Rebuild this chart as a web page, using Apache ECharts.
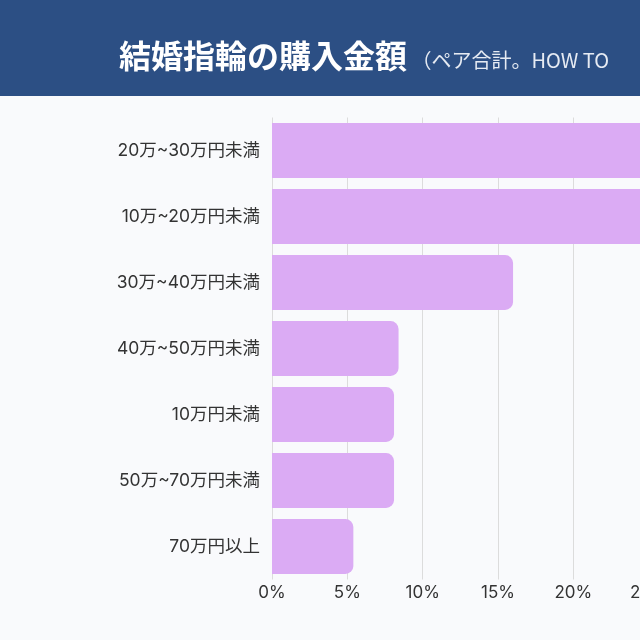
<!DOCTYPE html>
<html>
<head>
<meta charset="utf-8">
<script src="https://cdn.jsdelivr.net/npm/echarts@6/dist/echarts.min.js"></script>
<style>
html,body{margin:0;padding:0;background:#f9fafc;overflow:hidden;width:640px;height:640px;}
#chart{width:760px;height:640px;}
</style>
</head>
<body>
<div id="chart"></div>
<script>
// Data (top two bars are cut off at the right edge, estimated)
const categories = ['20万~30万円未満','10万~20万円未満','30万~40万円未満','40万~50万円未満','10万円未満','50万~70万円未満','70万円以上'];
const values = [28.4, 26.9, 16.0, 8.4, 8.1, 8.1, 5.4];
const titleMain = '結婚指輪の購入金額';
const titleSub = '（ペア合計。HOW TO';

const chart = echarts.init(document.getElementById('chart'), null, {renderer:'canvas'});
const font = "Inter, 'Noto Sans CJK JP', sans-serif";
chart.setOption({
  backgroundColor: '#f9fafc',
  animation: false,
  graphic: [
    {type:'rect', left:0, top:0, shape:{x:0,y:0,width:760,height:96}, style:{fill:'#2c4f84'}, z:-1}
  ],
  title: {
    text: '{a|' + titleMain + '}{b| ' + titleSub + '}',
    left: 114, top: 31,
    textStyle: {
      rich: {
        a: {fontSize: 32, fontWeight: 'bold', color: '#ffffff', fontFamily: "'Noto Sans CJK JP', sans-serif", verticalAlign:'bottom', lineHeight: 36},
        b: {fontSize: 20, fontWeight: 'normal', color: '#e6ebf3', fontFamily: "'Noto Sans CJK JP', sans-serif", verticalAlign:'bottom', lineHeight: 36, padding:[0,0,2,0]}
      }
    }
  },
  grid: {left: 272, right: 36, top: 117.5, bottom: 60.5, containLabel: false, outerBoundsMode: 'none'},
  xAxis: {
    type: 'value', min: 0, max: 30, interval: 5,
    axisLine: {show:false}, axisTick: {show:false},
    splitLine: {show:true, lineStyle:{color:'#dcdcdc', width:1}},
    axisLabel: {formatter: '{value}%', color:'#333', fontSize:17, fontFamily: font, margin: 5}
  },
  yAxis: {
    type: 'category', data: categories, inverse: true,
    axisLine: {show:false}, axisTick: {show:false},
    axisLabel: {color:'#333', fontSize:17.5, fontFamily: font, margin: 12}
  },
  series: [{
    type: 'bar', data: values,
    barCategoryGap: '17%',
    itemStyle: {color:'#dbabf4', borderRadius:[0,8,8,0]}
  }]
});
</script>
</body>
</html>
